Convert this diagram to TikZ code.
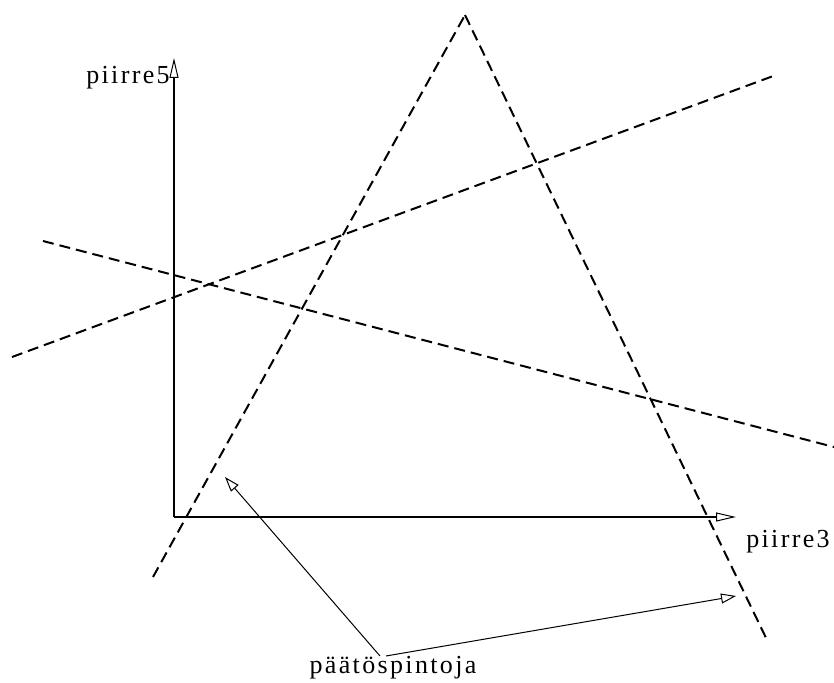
\documentclass[tikz,border=0pt]{standalone}
\usepackage{fontspec}
\setmainfont{Liberation Serif}[LetterSpace=9]
\usetikzlibrary{arrows.meta}
\begin{document}
\begin{tikzpicture}[x=1pt,y=-1pt,
  dline/.style={line width=2pt,dash pattern=on 11pt off 6pt},
  axis/.style={line width=1.3pt,-{Triangle[open,length=20pt,width=9pt,line width=1pt]}},
  pointer/.style={line width=1pt,-{Triangle[open,length=15pt,width=10pt,line width=1pt]}},
  lbl/.style={font=\fontsize{26}{28}\selectfont,inner sep=0pt,anchor=base}]
\useasboundingbox (0,0) rectangle (834,682);
\coordinate (o) at (174,517);
\coordinate (xend) at (736,517);
\coordinate (yend) at (174,58);
\draw[axis] (o) -- (xend);
\draw[axis] (o) -- (yend);
\node[lbl] (l5) at (128,84) {piirre5};
\node[lbl] (l3) at (788,547) {piirre3};
\node[lbl] (lp) at (393,673) {päätöspintoja};
\coordinate (a1) at (153,577);
\coordinate (apex) at (465,15);
\coordinate (a2) at (768,642);
\coordinate (b1) at (12,357);
\coordinate (b2) at (776,75);
\coordinate (c1) at (43,241);
\coordinate (c2) at (834,447);
\draw[dline] (a1) -- (apex);
\draw[dline] (apex) -- (a2);
\draw[dline] (b1) -- (b2);
\draw[dline] (c1) -- (c2);
\coordinate (t1) at (225,477);
\coordinate (t2) at (736,596);
\coordinate (s1) at (380,656);
\coordinate (s2) at (386,656);
\draw[pointer] (s1) -- (t1);
\draw[pointer] (s2) -- (t2);
\end{tikzpicture}
\end{document}
